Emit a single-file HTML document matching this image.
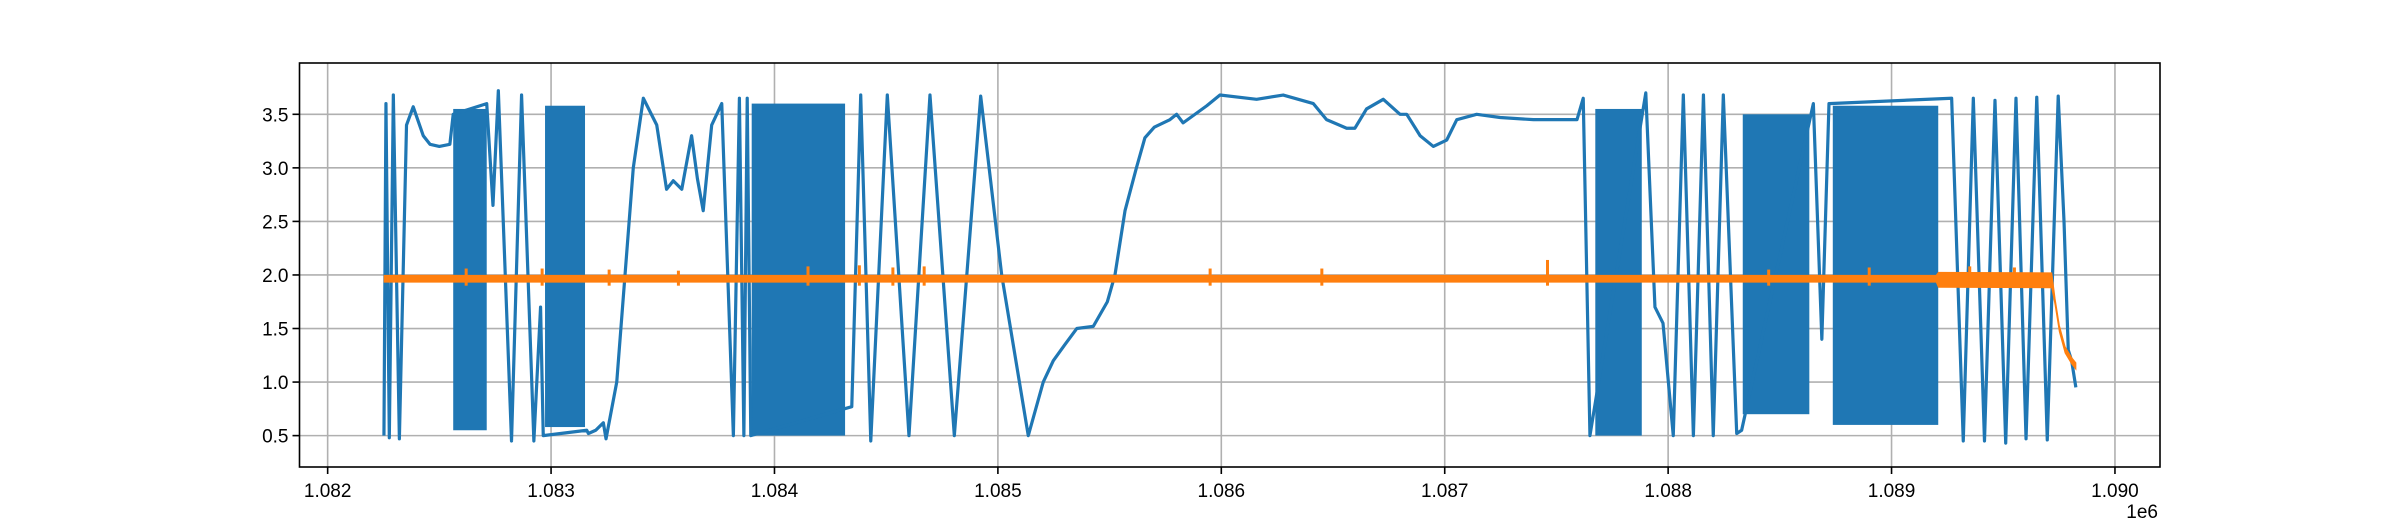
<!DOCTYPE html>
<html><head><meta charset="utf-8"><style>
html,body{margin:0;padding:0;background:#fff}
svg{display:block}
text{font-family:"Liberation Sans","DejaVu Sans",sans-serif;font-size:19px;fill:#000}
</style></head><body>
<svg id="chart" width="2400" height="525" viewBox="0 0 2400 525" xmlns="http://www.w3.org/2000/svg">
<rect x="0" y="0" width="2400" height="525" fill="#fff"/>
<g id="grid"></g>
<g id="plot"></g>
<g id="axes"></g>
</svg>
<script>
// x values are in thousands offset from 1082000 (x = 1082000 + v*1000)
const xTicks = [1.082,1.083,1.084,1.085,1.086,1.087,1.088,1.089,1.090];
const xTickLabels = ["1.082","1.083","1.084","1.085","1.086","1.087","1.088","1.089","1.090"];
const yTicks = [0.5,1.0,1.5,2.0,2.5,3.0,3.5];
const yTickLabels = ["0.5","1.0","1.5","2.0","2.5","3.0","3.5"];
const blueX = [0.252,0.261,0.276,0.294,0.321,0.353,0.383,0.428,0.458,0.500,0.547,0.562,0.712,0.740,0.764,0.823,0.868,0.923,0.953,0.965,1.160,1.167,1.200,1.234,1.246,1.294,1.331,1.368,1.413,1.473,1.517,1.547,1.585,1.629,1.655,1.681,1.719,1.764,1.816,1.843,1.863,1.878,1.894,2.346,2.386,2.431,2.505,2.602,2.696,2.805,2.923,3.017,3.136,3.203,3.248,3.300,3.353,3.427,3.490,3.524,3.569,3.620,3.658,3.70,3.77,3.80,3.829,3.935,3.994,4.158,4.277,4.412,4.471,4.561,4.598,4.65,4.725,4.8,4.83,4.89,4.949,5.009,5.054,5.143,5.248,5.397,5.592,5.620,5.650,5.900,5.941,5.977,6.023,6.068,6.113,6.158,6.202,6.247,6.307,6.329,6.650,6.688,6.72,7.269,7.321,7.366,7.416,7.463,7.511,7.557,7.602,7.650,7.697,7.746,7.772,7.791,7.806,7.825];
const blueY = [0.5,3.6,0.48,3.68,0.47,3.4,3.57,3.3,3.22,3.2,3.22,3.5,3.6,2.65,3.72,0.45,3.68,0.45,1.7,0.5,0.55,0.52,0.55,0.62,0.47,1.0,2.0,3.0,3.65,3.4,2.8,2.88,2.8,3.3,2.9,2.6,3.4,3.6,0.5,3.65,0.5,3.65,0.5,0.77,3.68,0.45,3.68,0.5,3.68,0.5,3.67,2.0,0.5,1.0,1.2,1.35,1.5,1.52,1.75,2.0,2.6,3.0,3.28,3.38,3.45,3.5,3.42,3.58,3.68,3.64,3.68,3.6,3.45,3.37,3.37,3.55,3.64,3.5,3.5,3.3,3.2,3.26,3.45,3.5,3.47,3.45,3.45,3.65,0.5,3.7,1.7,1.55,0.5,3.68,0.5,3.68,0.5,3.68,0.52,0.55,3.6,1.4,3.6,3.65,0.45,3.65,0.45,3.63,0.43,3.65,0.47,3.66,0.46,3.67,2.5,1.3,1.2,0.95];
const burstStart = [0.562,0.973,1.898,5.674,6.334,6.737];
const burstEnd = [0.712,1.152,2.316,5.882,6.632,7.209];
const burstHigh = [3.55,3.58,3.6,3.55,3.5,3.58];
const burstLow = [0.55,0.58,0.5,0.5,0.7,0.6];
const orangeX = [0.253,7.20,7.21,7.717,7.732,7.751,7.777,7.806,7.825];
const orangeY = [1.965,1.965,1.955,1.95,1.75,1.5,1.3,1.2,1.15];
const orangeSpread = [0.022,0.022,0.06,0.06,0.02,0.02,0.02,0.02,0.02];
const spikeX = [0.62,0.96,1.26,1.57,2.15,2.38,2.53,2.67,3.95,4.45,5.46,6.45,6.90,7.35,7.55];
const spikeY = [2.06,2.06,2.05,2.04,2.08,2.09,2.07,2.08,2.06,2.06,2.14,2.05,2.07,2.08,2.07];

const L=299.5,R=2160,T=63,B=467;
const X0=-0.126,X1=8.2016,Y0=0.207,Y1=3.979;
const sx=v=>L+(v-X0)/(X1-X0)*(R-L);
const sy=v=>B-(v-Y0)/(Y1-Y0)*(B-T);
const NS="http://www.w3.org/2000/svg";
function mk(tag,attrs,parent){const e=document.createElementNS(NS,tag);for(const k in attrs)e.setAttribute(k,attrs[k]);parent.appendChild(e);return e;}
const gridG=document.getElementById('grid'),plotG=document.getElementById('plot'),axesG=document.getElementById('axes');

xTicks.forEach((t,i)=>{
  const v=(t-1.082)*1000, x=sx(v);
  const g=mk('line',{x1:x,x2:x,y1:T,y2:B,stroke:'#b0b0b0','stroke-width':1.6},gridG);
  
  
  const tk=mk('line',{x1:x,x2:x,y1:B,y2:B+7,stroke:'#000','stroke-width':1.6},axesG);
  
  
  const tx=mk('text',{x:x,y:B+30,'text-anchor':'middle'},axesG);
  tx.textContent=xTickLabels[i];
  
  
});
yTicks.forEach((t,i)=>{
  const y=sy(t);
  const g=mk('line',{x1:L,x2:R,y1:y,y2:y,stroke:'#b0b0b0','stroke-width':1.6},gridG);
  
  
  const tk=mk('line',{x1:L-7,x2:L,y1:y,y2:y,stroke:'#000','stroke-width':1.6},axesG);
  
  
  const tx=mk('text',{x:L-11,y:y+7,'text-anchor':'end'},axesG);
  tx.textContent=yTickLabels[i];
  
  
});
const offLbl=mk('text',{x:R-2,y:518,'text-anchor':'end'},axesG);
offLbl.textContent='1e6';



const BLUE='#1f77b4',ORANGE='#ff7f0e';
burstStart.forEach((s,i)=>{
  const r=mk('rect',{x:sx(s),y:sy(burstHigh[i]),width:sx(burstEnd[i])-sx(s),height:sy(burstLow[i])-sy(burstHigh[i]),fill:BLUE},plotG);
  
  
});
const bl=mk('polyline',{points:blueX.map((v,i)=>sx(v)+','+sy(blueY[i])).join(' '),fill:'none',stroke:BLUE,'stroke-width':3.2,'stroke-linejoin':'round'},plotG);



const topPts=orangeX.map((v,i)=>sx(v)+','+(sy(orangeY[i]+orangeSpread[i])-1));
const botPts=orangeX.map((v,i)=>sx(v)+','+(sy(orangeY[i]-orangeSpread[i])+1)).reverse();
const ob=mk('polygon',{points:topPts.concat(botPts).join(' '),fill:ORANGE,stroke:ORANGE,'stroke-width':1},plotG);


spikeX.forEach((v,i)=>{
  const s=mk('line',{x1:sx(v),x2:sx(v),y1:sy(spikeY[i]),y2:sy(1.9),stroke:ORANGE,'stroke-width':3},plotG);
  
  
});

const fr=mk('rect',{x:L,y:T,width:R-L,height:B-T,fill:'none',stroke:'#000','stroke-width':1.6},axesG);


</script>
</body></html>
